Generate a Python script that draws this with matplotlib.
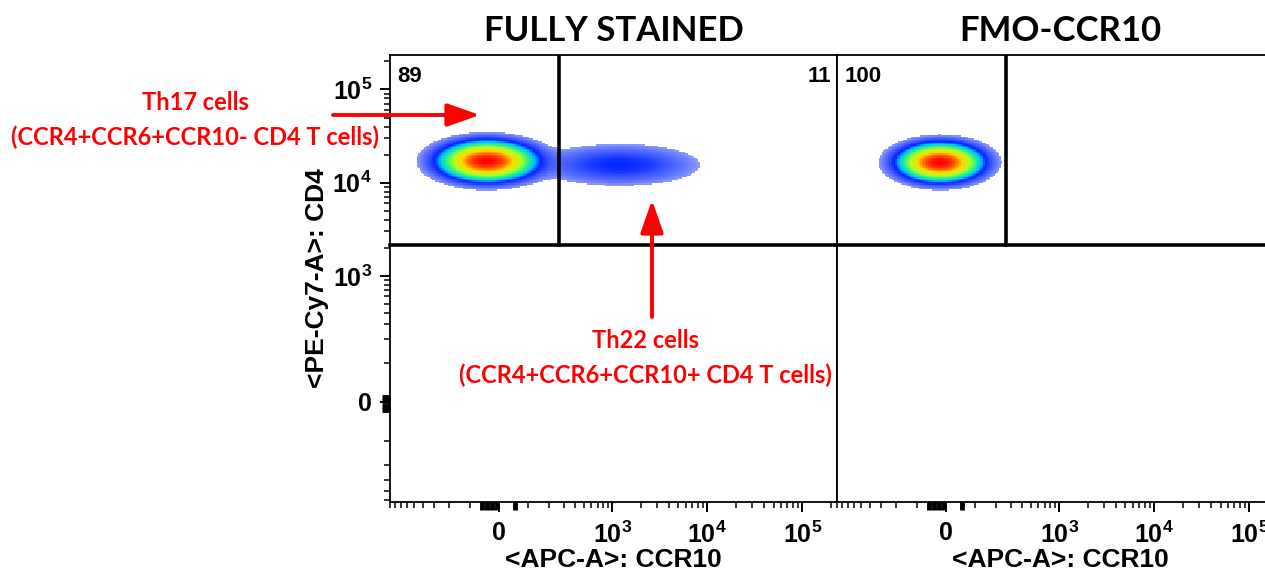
import numpy as np
import matplotlib.pyplot as plt
from matplotlib.colors import LinearSegmentedColormap, LogNorm

plt.rcParams['font.family'] = ['Liberation Sans', 'DejaVu Sans']
plt.rcParams['font.weight'] = 'bold'
plt.rcParams['mathtext.fontset'] = 'custom'
plt.rcParams['mathtext.bf'] = 'Liberation Sans:bold'
plt.rcParams['mathtext.rm'] = 'Liberation Sans:bold'
plt.rcParams['mathtext.default'] = 'bf'

# panels and quadrant frequencies (%)
panel_titles = ['FULLY STAINED', 'FMO-CCR10']
q_upper_left = ['89', '100']
q_upper_right = ['11', '']

# gates (raw fluorescence)
ccr10_gate = 262
cd4_gate = 2150

# populations: panel, CCR10 centre, CD4 centre, spread (asinh units), weight
pop_panel = [0, 0, 1]
pop_ccr10 = [-38, 1200, -19]
pop_cd4 = [17000, 15500, 16500]
pop_sx = [0.55, 0.95, 0.48]
pop_sy = [0.23, 0.25, 0.22]
pop_w = [0.89, 0.11, 1.00]

# events piled on the axes
x_axis_events = [-55, -38, -22, -6, 52]
y_axis_events = [-18, -8, 2, 11]

xw, yw = 130, 89          # asinh linear widths
xlim = (-906, 232000)
ylim = (-522, 234000)

major = [0, 1e3, 1e4, 1e5]
major_lab = ['0', '$10^{3}$', '$10^{4}$', '$10^{5}$']
minor = [-100 * k for k in range(1, 10)] + \
        [k * 10 ** e for e in (2, 3, 4) for k in range(1, 10)] + [2e5]

cmap = LinearSegmentedColormap.from_list(
    'flow', [(0, '#8d9bff'), (0.3, '#3a55ff'), (0.45, '#0022ff'), (0.56, '#00c0ff'),
             (0.66, '#20f090'), (0.77, '#b0ff20'), (0.87, '#ffd800'), (0.94, '#ff6000'),
             (1.0, '#ff0000')])

fig = plt.figure(figsize=(12.65, 5.82), dpi=100)
W, H = 1265, 582
axes = [fig.add_axes([390 / W, 80 / H, 447 / W, 447 / H]),
        fig.add_axes([837 / W, 80 / H, 447 / W, 447 / H])]

for i, ax in enumerate(axes):
    ax.set_xscale('asinh', linear_width=xw)
    ax.set_yscale('asinh', linear_width=yw)

    # density on a grid in transformed space
    ue = np.linspace(np.arcsinh(xlim[0] / xw), np.arcsinh(xlim[1] / xw), 301)
    ve = np.linspace(np.arcsinh(ylim[0] / yw), np.arcsinh(ylim[1] / yw), 301)
    uc = (ue[:-1] + ue[1:]) / 2
    vc = (ve[:-1] + ve[1:]) / 2
    U, V = np.meshgrid(uc, vc)
    dens = np.zeros_like(U)
    for p in range(len(pop_w)):
        if pop_panel[p] != i:
            continue
        u0 = np.arcsinh(pop_ccr10[p] / xw)
        v0 = np.arcsinh(pop_cd4[p] / yw)
        dens += pop_w[p] / (pop_sx[p] * pop_sy[p]) * np.exp(
            -0.5 * ((U - u0) / pop_sx[p]) ** 2 - 0.5 * ((V - v0) / pop_sy[p]) ** 2)
    dens /= dens.max()
    thr = 0.008
    dens = np.ma.masked_less(dens, thr)
    ax.pcolormesh(xw * np.sinh(ue), yw * np.sinh(ve), dens, cmap=cmap,
                  norm=LogNorm(thr, 1), shading='flat', rasterized=True)

    # gates
    ax.plot([ccr10_gate, ccr10_gate], [cd4_gate, ylim[1]], color='black', lw=2.6)
    ax.plot([xlim[0], xlim[1]], [cd4_gate, cd4_gate], color='black', lw=2.6, clip_on=False)

    ax.text(0.016, 0.975, q_upper_left[i], transform=ax.transAxes, ha='left', va='top', fontsize=16)
    ax.text(0.987, 0.975, q_upper_right[i], transform=ax.transAxes, ha='right', va='top', fontsize=16)

    ax.set_xticks(major, major_lab, fontsize=18)
    ax.set_xticks([t for t in minor if xlim[0] < t < xlim[1]], minor=True)
    ax.set_yticks(major, major_lab, fontsize=18)
    ax.set_yticks([t for t in minor if ylim[0] < t < ylim[1]], minor=True)
    ax.set_xlim(*xlim)
    ax.set_ylim(*ylim)
    ax.tick_params(which='major', length=7, width=1.4, direction='out', pad=7)
    ax.tick_params(which='minor', length=4, width=1.1, direction='out')
    ax.tick_params(axis='y', pad=6)
    for s in ax.spines.values():
        s.set_linewidth(1.3)

    ax.vlines(x_axis_events, -0.018, 0, transform=ax.get_xaxis_transform(),
              color='black', lw=3.5, clip_on=False)
    ax.set_xlabel('<APC-A>: CCR10', fontsize=19, fontweight='bold', labelpad=0)
    ax.set_title(panel_titles[i], fontsize=25, fontweight='bold', family='Lato', pad=10)

axes[0].hlines(y_axis_events, -0.018, 0, transform=axes[0].get_yaxis_transform(),
               color='black', lw=3.5, clip_on=False)
axes[0].set_ylabel('<PE-Cy7-A>: CD4', fontsize=19, fontweight='bold', labelpad=2)
axes[1].tick_params(axis='y', which='both', left=False, labelleft=False)

red = '#ff0000'
fig.text(195 / W, 1 - 103 / H, 'Th17 cells', color=red, fontsize=17, family='Lato',
         fontweight='bold', ha='center', va='center')
fig.text(195 / W, 1 - 137 / H, '(CCR4+CCR6+CCR10- CD4 T cells)', color=red, fontsize=17,
         family='Lato', fontweight='bold', ha='center', va='center')
fig.text(645 / W, 1 - 340 / H, 'Th22 cells', color=red, fontsize=17, family='Lato',
         fontweight='bold', ha='center', va='center')
fig.text(645 / W, 1 - 375 / H, '(CCR4+CCR6+CCR10+ CD4 T cells)', color=red, fontsize=17,
         family='Lato', fontweight='bold', ha='center', va='center')

arrow = dict(arrowstyle='-|>,head_length=1.0,head_width=0.35', color=red, lw=2.8,
             mutation_scale=20, shrinkA=0, shrinkB=0)
fig.add_artist(plt.Annotation('', xy=(480, H - 115), xytext=(333, H - 115),
                              xycoords='figure pixels', arrowprops=arrow))
fig.add_artist(plt.Annotation('', xy=(652, H - 200), xytext=(652, H - 317),
                              xycoords='figure pixels', arrowprops=arrow))

fig.savefig('out.png', dpi=100)
